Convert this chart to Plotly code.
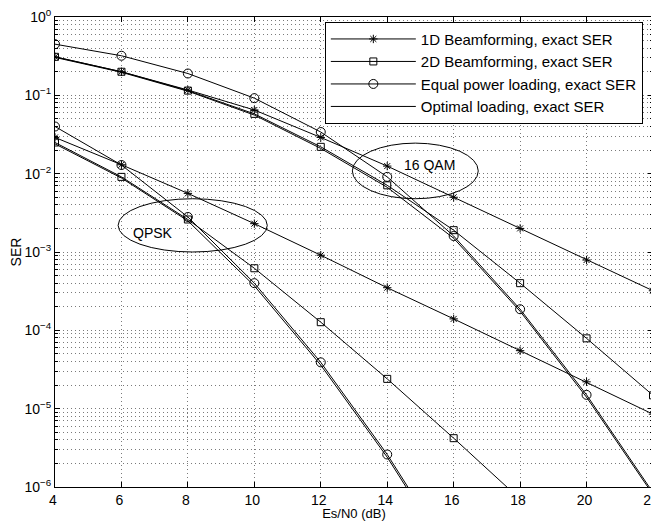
import plotly.graph_objects as go

snr_db = [4, 6, 8, 10, 12, 14, 16, 18, 20, 22]

# 16 QAM curves
qam16_1d = [0.31, 0.20, 0.117, 0.065, 0.029, 0.0125, 0.0050, 0.0020, 7.9e-4, 3.2e-4]
qam16_2d = [0.31, 0.20, 0.115, 0.058, 0.022, 0.0071, 0.0019, 4.0e-4, 7.9e-5, 1.48e-5]
qam16_eq = [0.45, 0.32, 0.19, 0.092, 0.034, 0.0091, 0.0016, 1.86e-4, 1.5e-5, 8.5e-7]
qam16_opt = [0.305, 0.197, 0.113, 0.056, 0.021, 0.0067, 0.0015, 1.75e-4, 1.4e-5, 8.0e-7]

# QPSK curves
qpsk_1d = [0.029, 0.013, 0.0056, 0.0023, 9.1e-4, 3.5e-4, 1.4e-4, 5.5e-5, 2.2e-5, 8.5e-6]
qpsk_2d = [0.025, 0.0091, 0.0026, 6.2e-4, 1.27e-4, 2.4e-5, 4.2e-6, 7.0e-7]
qpsk_eq = [0.040, 0.0129, 0.0028, 4.0e-4, 3.9e-5, 2.6e-6, 1.2e-7]
qpsk_opt = [0.024, 0.0088, 0.0025, 3.7e-4, 3.6e-5, 2.4e-6, 1.1e-7]

legend_names = ["1D Beamforming, exact SER", "2D Beamforming, exact SER",
                "Equal power loading, exact SER", "Optimal loading, exact SER"]

y_tickvals = [1e-6, 1e-5, 1e-4, 1e-3, 1e-2, 1e-1, 1]
y_ticktext = ["10<sup>−6</sup>", "10<sup>−5</sup>", "10<sup>−4</sup>", "10<sup>−3</sup>",
              "10<sup>−2</sup>", "10<sup>−1</sup>", "10<sup>0</sup>"]
x_tickvals = [4, 6, 8, 10, 12, 14, 16, 18, 20, 22]

FONT = "Liberation Sans, Arial, Helvetica, sans-serif"
GRID = "#7a7a7a"
DOT = "1px,3px"

fig = go.Figure()

styles = [
    dict(symbol="asterisk-open", size=7),
    dict(symbol="square-open", size=7),
    dict(symbol="circle-open", size=9),
    None,
]

groups = [
    [qam16_1d, qam16_2d, qam16_eq, qam16_opt],
    [qpsk_1d, qpsk_2d, qpsk_eq, qpsk_opt],
]

for gi, grp in enumerate(groups):
    for si, ys in enumerate(grp):
        st = styles[si]
        kw = dict(
            x=snr_db[:len(ys)], y=ys,
            name=legend_names[si],
            legendgroup=legend_names[si],
            showlegend=(gi == 0),
            line=dict(color="black", width=1),
            cliponaxis=True,
        )
        if st is None:
            kw["mode"] = "lines"
        else:
            kw["mode"] = "lines+markers"
            kw["marker"] = dict(symbol=st["symbol"], size=st["size"], color="black",
                                line=dict(color="black", width=1))
        fig.add_trace(go.Scatter(**kw))

# ellipses grouping the curves
fig.add_shape(type="circle", xref="x", yref="y", x0=5.9, x1=10.39,
              y0=10 ** -2.32, y1=10 ** -3.0, line=dict(color="black", width=1))
fig.add_shape(type="circle", xref="x", yref="y", x0=12.95, x1=16.74,
              y0=10 ** -1.61, y1=10 ** -2.32, line=dict(color="black", width=1))

fig.add_annotation(x=6.95, y=-2.76, xref="x", yref="y", text="QPSK", showarrow=False,
                   font=dict(family=FONT, size=14, color="black"))
fig.add_annotation(x=15.26, y=-1.89, xref="x", yref="y", text="16 QAM", showarrow=False,
                   font=dict(family=FONT, size=14, color="black"))

fig.update_layout(
    width=651, height=513,
    margin=dict(l=47, r=6, t=9, b=34),
    paper_bgcolor="white", plot_bgcolor="white",
    font=dict(family=FONT, size=13, color="black"),
    showlegend=True,
    legend=dict(
        x=0.983, y=0.99, xanchor="right", yanchor="top",
        bgcolor="white", bordercolor="black", borderwidth=1,
        font=dict(family=FONT, size=15, color="black"),
        itemwidth=85, tracegroupgap=0,
    ),
    xaxis=dict(
        range=[4, 22], tickmode="array", tickvals=x_tickvals,
        ticks="inside", ticklen=5, tickcolor="black", mirror="ticks",
        showline=True, linecolor="black", linewidth=1,
        showgrid=True, gridcolor=GRID, griddash=DOT, gridwidth=1,
        zeroline=False, automargin=False, ticklabeloverflow="allow",
        ticklabelshift=-2,
        title=dict(text="Es/N0 (dB)", standoff=1, font=dict(size=13)),
        tickfont=dict(size=14),
    ),
    yaxis=dict(
        type="log", range=[-6, 0], tickmode="array", tickvals=y_tickvals, ticktext=y_ticktext,
        ticks="inside", ticklen=5, tickcolor="black", mirror="ticks",
        showline=True, linecolor="black", linewidth=1,
        showgrid=True, gridcolor=GRID, griddash=DOT, gridwidth=1,
        zeroline=False, automargin=False, ticklabeloverflow="allow",
        minor=dict(dtick="D1", ticks="inside", ticklen=3, tickcolor="black",
                   showgrid=True, gridcolor=GRID, griddash=DOT, gridwidth=1),
        title=dict(text="SER", standoff=6, font=dict(size=14)),
        tickfont=dict(size=14),
    ),
)

fig.write_html("out.html")
